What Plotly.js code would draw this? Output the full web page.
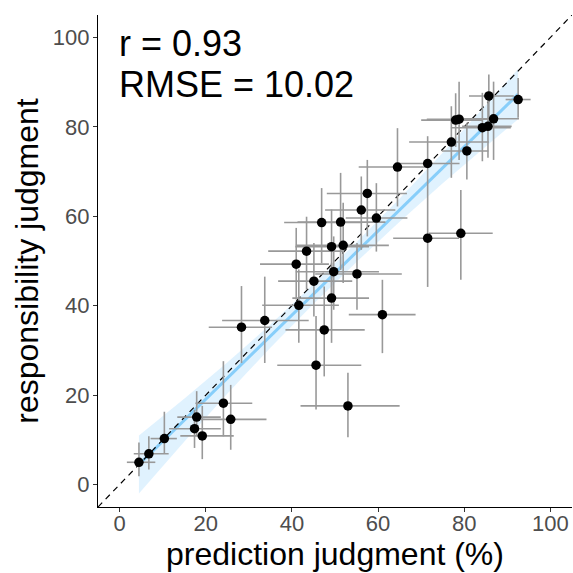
<!DOCTYPE html>
<html>
<head>
<meta charset="utf-8">
<script src="https://cdn.plot.ly/plotly-3.0.1.min.js"></script>
<style>html,body{margin:0;padding:0;background:#fff;}#chart{width:573px;height:573px;}</style>
</head>
<body>
<div id="chart"></div>
<script>
// prediction judgment (x) and responsibility judgment (y) with interval half-widths
const predX = [4.5, 6.8, 10.4, 17.4, 17.9, 19.2, 24.1, 25.8, 28.3, 33.7, 41.6, 45.6, 47.5, 49.2, 53.0, 61.0, 41.0, 45.1, 43.4, 49.2, 49.7, 51.9, 55.1, 46.9, 51.3, 56.1, 57.5, 59.6, 64.5, 71.5, 71.5, 79.2, 77.0, 80.6, 78.0, 78.8, 84.2, 85.5, 86.8, 85.7, 92.5];
const respY = [5.0, 6.9, 10.3, 12.5, 15.1, 10.9, 18.2, 14.6, 35.2, 36.7, 40.1, 26.7, 34.6, 41.7, 17.6, 38.0, 49.3, 45.5, 52.2, 53.2, 47.6, 53.5, 47.1, 58.6, 58.7, 61.4, 65.1, 59.6, 71.0, 71.8, 55.1, 56.2, 76.6, 74.6, 81.5, 81.7, 79.8, 80.1, 81.8, 86.9, 86.1];
const xErrMinus = [2.8, 3.5, 3.2, 5.9, 4.5, 5.1, 6.5, 7.0, 7.6, 9.9, 8.5, 9.0, 9.0, 9.1, 11.0, 7.8, 8.4, 8.3, 8.9, 8.4, 8.8, 11.0, 9.7, 8.7, 10.0, 8.4, 9.4, 7.1, 9.0, 7.3, 8.0, 7.4, 9.8, 5.8, 8.0, 7.5, 7.3, 6.0, 8.4, 4.6, 2.9];
const xErrPlus = [3.8, 4.6, 2.9, 6.1, 5.6, 7.3, 6.7, 8.3, 7.1, 10.2, 9.3, 10.5, 9.4, 8.7, 12.0, 7.7, 7.6, 8.9, 8.7, 8.7, 10.5, 10.6, 10.4, 9.4, 10.4, 7.9, 9.2, 7.2, 7.3, 7.4, 7.3, 7.4, 8.7, 5.0, 6.3, 7.0, 6.6, 5.5, 5.9, 5.8, 2.9];
const yErrMinus = [3.1, 3.5, 3.3, 4.3, 4.2, 5.2, 7.4, 6.8, 8.0, 9.5, 8.4, 9.9, 10.4, 10.0, 7.0, 8.6, 7.9, 7.9, 8.6, 10.4, 8.5, 8.4, 8.0, 9.1, 10.7, 8.9, 9.6, 7.5, 8.8, 6.6, 10.9, 10.4, 8.0, 6.4, 6.0, 9.1, 7.5, 7.0, 9.2, 6.7, 4.1];
const yErrPlus = [4.4, 3.9, 6.0, 4.2, 5.8, 6.7, 9.4, 7.7, 9.2, 9.8, 8.0, 11.0, 9.7, 7.9, 7.4, 7.8, 8.1, 8.5, 7.7, 8.3, 7.9, 9.5, 6.9, 7.7, 11.0, 7.5, 7.5, 7.8, 8.7, 6.1, 10.1, 9.7, 8.0, 6.3, 6.0, 8.4, 7.8, 6.5, 8.3, 4.8, 4.8];

// regression fit and its confidence band
const fitX = [4.5, 15, 25, 35, 45, 55, 65, 75, 85, 92.5];
const fitY = [4.5, 14.4, 23.8, 33.2, 42.6, 52.0, 61.4, 70.8, 80.2, 87.3];
const fitLower = [-2.0, 9.6, 20.3, 30.6, 40.4, 49.8, 58.8, 67.4, 75.6, 81.7];
const fitUpper = [11.0, 19.2, 27.3, 35.8, 44.8, 54.2, 64.0, 74.2, 84.8, 92.9];

// identity reference line and axis settings
const identity = [-5, 105];
const tickVals = [0, 20, 40, 60, 80, 100];
const tickText = ['0', '20', '40', '60', '80', '100'];
const statLines = ['r = 0.93', 'RMSE = 10.02'];
const xTitle = 'prediction judgment (%)';
const yTitle = 'responsibility judgment';

const FONT = 'Liberation Sans, Arial, Helvetica, sans-serif';

const traces = [
  {x: fitX, y: fitUpper, mode: 'lines', line: {width: 0, color: 'rgba(0,0,0,0)'}, hoverinfo: 'skip', showlegend: false},
  {x: fitX, y: fitLower, mode: 'lines', fill: 'tonexty', fillcolor: 'rgba(173,222,252,0.38)', line: {width: 0, color: 'rgba(0,0,0,0)'}, hoverinfo: 'skip', showlegend: false},
  {x: fitX, y: fitY, mode: 'lines', line: {color: '#87cefa', width: 3}, showlegend: false},
  {x: identity, y: identity, mode: 'lines', line: {color: '#000', width: 1.2, dash: '6px,5px'}, showlegend: false},
  {x: predX, y: respY, mode: 'markers', marker: {size: 1, color: 'rgba(0,0,0,0)'},
    error_x: {type: 'data', array: xErrPlus, arrayminus: xErrMinus, symmetric: false, color: '#999999', thickness: 1.6, width: 0},
    error_y: {type: 'data', array: yErrPlus, arrayminus: yErrMinus, symmetric: false, color: '#999999', thickness: 1.6, width: 0},
    showlegend: false},
  {x: predX, y: respY, mode: 'markers', marker: {size: 9.5, color: '#000'}, showlegend: false}
];

const axisCommon = {
  range: [-5, 105], tickvals: tickVals, ticktext: tickText,
  showgrid: false, zeroline: false, showline: true, linecolor: '#000', linewidth: 1.2,
  ticks: 'outside', ticklen: 4, tickwidth: 1.1, tickcolor: '#333',
  tickfont: {family: FONT, size: 22, color: '#4d4d4d'}
};

const layout = {
  width: 573, height: 573,
  margin: {l: 98, r: 1, t: 15, b: 66},
  paper_bgcolor: '#fff', plot_bgcolor: '#fff',
  xaxis: Object.assign({}, axisCommon, {ticklabelstandoff: -8, title: {text: xTitle, font: {family: FONT, size: 32, color: '#000'}, standoff: 2}}),
  yaxis: Object.assign({}, axisCommon, {ticklabelstandoff: -1, title: {text: yTitle, font: {family: FONT, size: 32, color: '#000'}, standoff: 4}}),
  annotations: [
    {xref: 'x', yref: 'y', x: -0.5, y: 98.6, text: statLines[0], showarrow: false, xanchor: 'left', yanchor: 'middle', font: {family: FONT, size: 36, color: '#000'}},
    {xref: 'x', yref: 'y', x: -0.5, y: 89.4, text: statLines[1], showarrow: false, xanchor: 'left', yanchor: 'middle', font: {family: FONT, size: 36, color: '#000'}}
  ]
};

Plotly.newPlot('chart', traces, layout, {staticPlot: true, displayModeBar: false});
</script>
</body>
</html>
